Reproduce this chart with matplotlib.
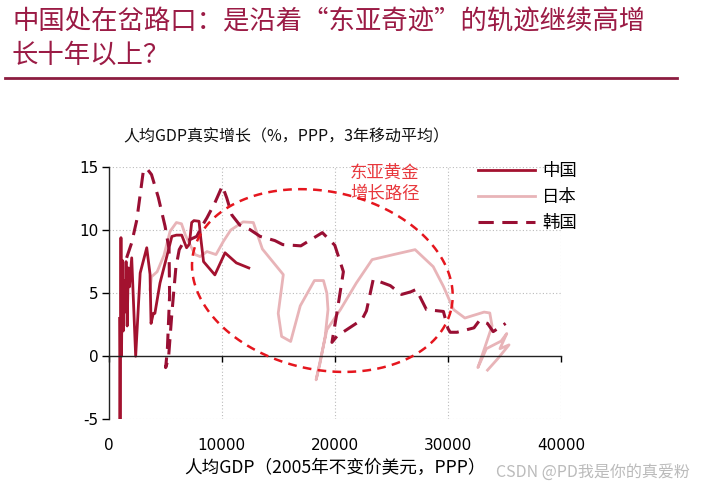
import numpy as np
import matplotlib
matplotlib.use('Agg')
import matplotlib.pyplot as plt

plt.rcParams['font.family'] = ['Noto Sans CJK SC', 'DejaVu Sans']
plt.rcParams['axes.unicode_minus'] = False

china_x = [980, 1020, 1100, 1150, 1220, 1300, 1380, 1450, 1550, 1650, 1750, 1850,
           2050, 2400, 2800, 3380, 3670, 3760, 3960, 4100, 4550, 5150, 5600, 6000,
           6470, 6900, 7150, 7350, 7550, 8000, 8150, 8400, 9400, 10300, 11300, 12400]
china_y = [3.0, -6.0, 9.4, 0.0, 7.6, 2.0, 6.0, 3.5, 7.5, 2.4, 7.0, 5.5,
           7.8, 0.0, 6.6, 8.6, 6.5, 2.6, 3.4, 3.4, 5.8, 7.9, 9.5, 9.6,
           9.6, 8.6, 8.9, 10.6, 10.75, 10.7, 9.4, 7.5, 6.45, 8.2, 7.4, 7.0]

japan_x = [3670, 3800, 4300, 4900, 5440, 6000, 6450, 6800, 7200, 7650, 8100, 8700,
           9500, 10150, 10800, 11900, 12800, 13600, 15450, 15000, 15300, 16100, 16950,
           18200, 19000, 19300, 19400, 19150, 18700, 18350, 19300, 20500, 21900, 23300,
           25200, 27100, 28700, 29600, 30500, 31500, 33200, 33700, 33900, 33300, 32650,
           33400, 34700, 35200, 34600, 35400, 34400, 33500]
japan_y = [5.3, 6.3, 6.7, 8.0, 9.9, 10.6, 10.5, 9.6, 8.85, 8.06, 7.9, 8.3,
           8.06, 9.1, 10.0, 10.65, 10.6, 8.5, 6.47, 3.4, 1.57, 1.17, 4.0,
           6.0, 6.0, 5.0, 3.7, 1.57, -0.54, -1.87, 2.1, 3.7, 5.8, 7.66,
           8.06, 8.45, 7.1, 5.54, 3.7, 3.03, 3.5, 3.43, 2.4, 0.8, -0.9,
           0.6, 1.2, 1.8, 0.6, 0.9, -0.2, -1.1]

korea_x = [1600, 2050, 2500, 3080, 3370, 3800, 4400, 5000, 5350, 5400, 5200, 5050,
           5300, 5600, 5950, 6250, 6600, 7200, 7800, 8250, 8700, 9400, 10060, 10450,
           10900, 11600, 12500, 13400, 14700, 15400, 17000, 18900, 20000, 20760, 20200,
           19750, 20200, 22400, 22800, 23400, 24900, 25900, 26700, 27200, 28100, 29600,
           30000, 30200, 30800, 32300, 32800, 33500, 34000, 35100]
korea_y = [7.8, 9.0, 10.8, 14.7, 14.9, 14.4, 12.6, 10.3, 8.5, 4.8, 0.5, -0.9,
           -0.2, 3.4, 7.0, 8.45, 9.0, 9.25, 9.5, 10.3, 10.97, 12.16, 13.5, 12.55,
           11.2, 10.4, 10.04, 9.5, 9.17, 8.85, 8.75, 9.8, 8.8, 6.7, 3.5,
           1.1, 1.6, 2.9, 3.6, 6.1, 5.6, 4.9, 5.1, 5.3, 3.7, 3.55,
           2.2, 1.9, 1.9, 2.25, 2.85, 2.6, 1.95, 2.6]

x_ticks = [0, 10000, 20000, 30000, 40000]
y_ticks = [-5, 0, 5, 10, 15]

red_title = '#9B1B45'
c_china = '#A3122F'
c_japan = '#E8B4B8'
c_korea = '#990F33'

fig = plt.figure(figsize=(7.06, 4.95), dpi=100)
ax = fig.add_axes([0.1537, 0.1529, 0.641, 0.5097])

# title and separator
fig.text(12 / 706, 1 - 22 / 495, '中国处在岔路口：是沿着“东亚奇迹”的轨迹继续高增',
         color=red_title, fontsize=19, va='center', ha='left')
fig.text(12 / 706, 1 - 55 / 495, '长十年以上？',
         color=red_title, fontsize=19, va='center', ha='left')
fig.add_artist(plt.Line2D([5 / 706, 677 / 706], [1 - 77.5 / 495, 1 - 77.5 / 495],
                          color='#8C1D40', lw=2))

fig.text(123 / 706, 1 - 137 / 495, '人均GDP真实增长（%，PPP，3年移动平均）',
         fontsize=11.5, va='center', ha='left', color='#111111')

# lines
l_japan, = ax.plot(japan_x, japan_y, color=c_japan, lw=2, label='日本')
l_china, = ax.plot(china_x, china_y, color=c_china, lw=2, label='中国')
l_korea, = ax.plot(korea_x, korea_y, color=c_korea, lw=2.2, ls=(0, (5, 2.8)), label='韩国')

ax.set_xlim(0, 40000)
ax.set_ylim(-5, 15)
ax.set_xticks(x_ticks)
ax.set_yticks(y_ticks)

# dashed ellipse "East Asian golden growth path" (pixel geometry)
ax_w = 0.641 * 706
ax_h = 0.5097 * 495
sx = ax_w / 40000
sy = ax_h / 20
cx, cy = 18900, 6.0
a, b, th = 132, 89, np.deg2rad(-12.3)
t = np.linspace(0, 2 * np.pi, 300)
u, v = a * np.cos(t), b * np.sin(t)
ex = cx + (u * np.cos(th) - v * np.sin(th)) / sx
ey = cy + (u * np.sin(th) + v * np.cos(th)) / sy
ax.plot(ex, ey, color='#E5161E', lw=1.8, ls=(0, (3.5, 2.5)), zorder=5)

ax.text(24400, 13.7, '东亚黄金\n增长路径', color='#E8383D', fontsize=12.5,
        ha='center', va='center', linespacing=1.25)

# grid
for yv in [15, 10, 5, -5]:
    ax.axhline(yv, color='#BBBBBB', lw=0.8, ls=(0, (1, 2)), zorder=0)
for xv in [10000, 20000, 30000, 40000]:
    ax.axvline(xv, color='#BBBBBB', lw=0.8, ls=(0, (1, 2)), zorder=0)

# spines
for s in ['top', 'right']:
    ax.spines[s].set_visible(False)
ax.spines['bottom'].set_position(('data', 0))
ax.spines['bottom'].set_color('#222222')
ax.spines['left'].set_color('#222222')
ax.spines['bottom'].set_linewidth(1)
ax.spines['left'].set_linewidth(1)
ax.tick_params(axis='x', direction='out', length=4, width=1, pad=55, labelsize=11)
ax.tick_params(axis='y', direction='out', length=5, width=1, pad=2, labelsize=11)
for lab in ax.get_xticklabels() + ax.get_yticklabels():
    lab.set_family('DejaVu Sans')

ax.set_xlabel('人均GDP（2005年不变价美元，PPP）', fontsize=12.7, labelpad=4)

fig.legend(handles=[l_china, l_japan, l_korea], loc='upper left',
           bbox_to_anchor=(478 / 706, 1 - 162 / 495), frameon=False,
           fontsize=12.5, handlelength=3.3, handletextpad=0.4,
           labelspacing=0.45, borderpad=0, borderaxespad=0)

fig.text(690 / 706, 1 - 472 / 495, 'CSDN @PD我是你的真爱粉', color='#BBBBBB',
         fontsize=11.5, ha='right', va='center')

fig.savefig('out.png', dpi=100)
